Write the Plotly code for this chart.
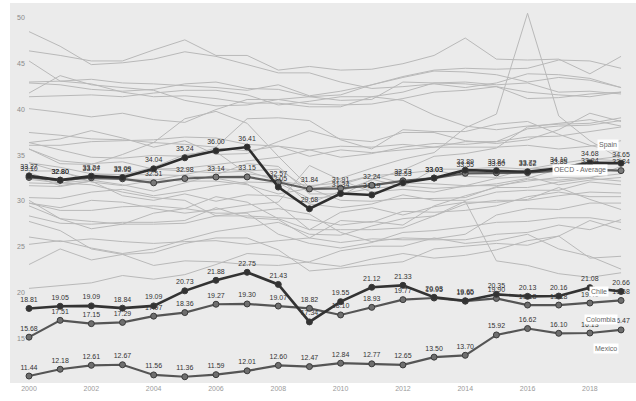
import plotly.graph_objects as go

years = list(range(2000, 2020))
tick_years = list(range(2000, 2019, 2))
y_ticks = [15, 20, 25, 30, 35, 40, 45, 50]

# Highlighted series (tax revenue, % of GDP)
spain = [33.27, 32.80, 33.24, 33.09, 34.04, 35.24, 36.00, 36.41, 32.05, 29.68,
         31.34, 31.19, 32.53, 33.03, 33.89, 33.84, 33.72, 34.10, 34.68, 34.65]
oecd_avg = [33.10, 32.80, 33.07, 32.95, 32.51, 32.98, 33.14, 33.15, 32.57, 31.84,
            31.91, 32.24, 32.73, 33.03, 33.55, 33.60, 33.62, 33.85, 33.94, 33.84]
chile = [18.81, 19.05, 19.09, 18.84, 19.09, 20.73, 21.88, 22.75, 21.43, 17.34,
         19.55, 21.12, 21.33, 20.03, 19.65, 20.35, 20.13, 20.16, 21.08, 20.66]
colombia = [15.68, 17.51, 17.15, 17.29, 17.97, 18.36, 19.27, 19.30, 19.07, 18.82,
            18.10, 18.93, 19.77, 19.95, 19.60, 19.90, 19.18, 19.18, 19.40, 19.68]
mexico = [11.44, 12.18, 12.61, 12.67, 11.56, 11.36, 11.59, 12.01, 12.60, 12.47,
          12.84, 12.77, 12.65, 13.50, 13.70, 15.92, 16.62, 16.10, 16.13, 16.47]

# Background (grey) countries
denmark = [46.9, 46.4, 45.8, 45.8, 47.0, 48.1, 46.4, 46.4, 44.8, 45.2, 44.8, 44.9, 45.5, 46.4, 48.3, 46.0, 45.9, 46.0, 44.4, 46.3]
sweden = [49.0, 47.4, 45.4, 45.6, 46.0, 46.8, 46.3, 45.4, 44.5, 44.5, 43.5, 42.8, 43.0, 43.3, 42.9, 43.4, 44.4, 44.3, 43.9, 42.9]
france = [43.4, 43.2, 42.7, 42.5, 42.7, 43.3, 43.5, 42.8, 42.7, 41.9, 42.1, 43.2, 44.1, 44.8, 45.0, 44.9, 45.0, 45.9, 45.8, 45.0]
belgium = [43.5, 43.6, 43.8, 43.4, 43.3, 43.1, 42.9, 42.6, 43.2, 42.0, 42.5, 43.2, 44.0, 44.7, 44.6, 44.3, 43.5, 44.0, 43.7, 42.9]
finland = [45.8, 43.6, 43.3, 42.4, 41.9, 42.0, 41.7, 41.2, 41.2, 40.8, 40.8, 41.9, 42.4, 43.4, 43.5, 43.2, 43.4, 42.4, 42.5, 42.2]
austria = [42.3, 44.2, 43.2, 42.9, 42.6, 41.5, 40.9, 41.0, 41.6, 41.1, 41.0, 41.1, 41.7, 42.4, 42.6, 43.0, 41.7, 41.8, 42.2, 42.4]
norway = [41.9, 42.0, 42.1, 41.9, 42.3, 42.6, 42.6, 42.1, 41.0, 41.4, 41.9, 41.9, 41.5, 39.9, 38.7, 38.3, 38.7, 38.9, 39.0, 39.6]
italy = [40.6, 40.2, 39.7, 40.1, 39.4, 39.1, 40.5, 41.6, 41.6, 41.9, 41.5, 41.6, 43.5, 43.4, 43.3, 43.0, 42.4, 42.1, 41.9, 42.4]
netherlands = [36.9, 36.1, 35.3, 35.2, 35.5, 35.4, 36.3, 36.0, 36.5, 35.4, 36.1, 35.8, 36.1, 36.4, 37.0, 37.0, 38.4, 38.7, 38.8, 39.3]
germany = [36.2, 34.9, 34.6, 34.8, 34.0, 34.1, 34.5, 34.9, 35.3, 36.1, 35.3, 35.7, 36.4, 36.8, 36.7, 37.0, 37.5, 37.6, 38.1, 38.6]
iceland = [36.2, 34.6, 34.5, 35.6, 36.9, 39.5, 40.3, 39.0, 35.4, 32.0, 33.0, 34.1, 35.1, 35.8, 38.5, 40.0, 51.0, 39.8, 37.1, 35.1]
luxembourg = [36.9, 37.3, 38.2, 37.4, 36.4, 37.1, 35.6, 35.7, 37.0, 38.2, 37.3, 37.0, 38.0, 38.0, 37.1, 36.8, 37.2, 38.3, 40.1, 39.2]
hungary = [38.0, 37.7, 37.3, 37.2, 36.9, 36.7, 36.4, 39.5, 39.6, 39.3, 37.2, 36.2, 38.3, 38.1, 38.1, 38.9, 39.2, 37.8, 36.6, 35.8]
slovenia = [36.6, 36.6, 37.0, 37.1, 37.2, 37.5, 37.4, 36.7, 36.5, 36.1, 36.5, 36.4, 36.7, 36.4, 36.4, 36.4, 36.6, 36.2, 36.5, 37.1]
portugal = [30.9, 30.8, 31.5, 31.8, 31.1, 31.6, 32.2, 32.6, 32.5, 30.8, 31.1, 32.9, 32.1, 34.0, 34.0, 34.2, 34.0, 34.2, 34.8, 34.8]
greece = [33.4, 32.2, 32.7, 31.1, 30.6, 31.3, 30.5, 31.2, 31.1, 30.3, 31.6, 32.8, 33.9, 35.4, 35.7, 36.3, 38.6, 39.0, 39.4, 38.7]
united_kingdom = [33.8, 33.8, 32.6, 32.2, 32.8, 33.4, 34.1, 33.8, 34.0, 31.8, 32.3, 33.3, 32.5, 32.4, 32.2, 32.2, 32.7, 33.1, 33.0, 32.7]
czechia = [32.2, 32.1, 32.7, 33.3, 34.0, 33.8, 33.6, 33.8, 32.7, 32.2, 32.5, 33.3, 33.5, 33.9, 33.2, 33.1, 34.0, 34.6, 35.1, 34.9]
israel = [34.7, 34.2, 33.5, 33.4, 33.4, 33.3, 33.0, 32.4, 30.1, 27.4, 29.3, 29.8, 29.0, 29.9, 30.4, 30.4, 30.7, 32.0, 30.7, 29.6]
poland = [32.9, 32.5, 32.8, 32.3, 31.6, 32.5, 33.4, 34.6, 34.3, 31.3, 31.3, 31.9, 32.2, 31.9, 32.1, 32.4, 33.0, 34.0, 35.0, 35.4]
canada = [34.7, 33.7, 32.9, 32.9, 32.9, 32.7, 32.7, 32.3, 31.3, 31.9, 30.6, 30.5, 30.8, 30.8, 30.9, 32.1, 32.9, 32.8, 33.1, 33.5]
estonia = [30.3, 29.8, 30.6, 30.4, 29.7, 29.2, 29.6, 30.1, 30.4, 34.4, 32.8, 31.5, 31.8, 31.5, 32.2, 33.0, 33.2, 32.3, 32.8, 33.1]
slovakia = [33.6, 32.5, 32.3, 31.5, 30.9, 30.6, 28.9, 28.9, 28.7, 28.5, 27.9, 28.3, 27.9, 30.0, 31.1, 32.0, 32.0, 32.6, 33.0, 34.3]
new_zealand = [32.5, 32.4, 33.4, 33.4, 34.2, 35.6, 35.9, 33.5, 33.1, 30.2, 29.8, 30.2, 31.2, 30.6, 30.6, 31.5, 31.7, 31.7, 32.6, 32.3]
australia = [30.3, 29.5, 29.5, 29.9, 30.0, 29.7, 29.2, 29.2, 26.9, 25.9, 25.4, 26.0, 27.1, 27.3, 27.7, 28.2, 28.3, 28.7, 28.7, 28.2]
lithuania = [30.0, 28.6, 28.3, 28.0, 28.0, 28.1, 28.9, 29.3, 29.7, 29.1, 27.1, 26.1, 26.5, 26.4, 26.9, 29.0, 29.7, 29.6, 30.3, 30.3]
latvia = [28.9, 28.1, 28.0, 28.2, 28.2, 28.4, 29.8, 28.7, 28.5, 26.5, 28.4, 28.2, 29.4, 29.3, 29.5, 30.0, 31.0, 31.5, 31.0, 31.0]
japan = [25.8, 26.2, 25.4, 24.8, 25.3, 26.3, 27.2, 27.7, 28.2, 26.9, 26.8, 27.8, 28.6, 28.9, 30.2, 30.6, 30.6, 31.1, 31.5, 31.4]
switzerland = [26.6, 26.1, 26.4, 26.1, 25.9, 26.1, 26.2, 25.8, 26.2, 26.5, 26.0, 26.4, 26.3, 26.3, 26.3, 26.9, 27.1, 27.9, 27.4, 28.5]
united_states = [28.3, 27.3, 25.3, 24.7, 24.9, 25.9, 26.5, 26.5, 25.2, 22.9, 23.2, 23.6, 23.9, 25.3, 25.6, 25.9, 25.7, 26.7, 24.3, 24.5]
korea = [21.0, 21.3, 21.6, 22.4, 22.0, 22.5, 23.6, 24.8, 24.6, 23.8, 23.4, 24.2, 24.8, 24.3, 24.6, 25.2, 26.2, 26.7, 28.4, 27.4]
turkey = [23.6, 25.3, 24.1, 24.7, 23.5, 24.0, 23.9, 23.6, 23.5, 23.9, 25.1, 25.6, 25.6, 26.5, 25.9, 26.2, 26.9, 25.3, 24.5, 23.1]
ireland = [30.6, 28.6, 27.5, 28.0, 29.2, 29.7, 31.0, 30.4, 28.6, 27.4, 27.4, 27.4, 27.6, 28.9, 30.5, 24.0, 23.5, 22.6, 22.2, 22.7]

others = [denmark, sweden, france, belgium, finland, austria, norway, italy,
          netherlands, germany, iceland, luxembourg, hungary, slovenia, portugal,
          greece, united_kingdom, czechia, israel, poland, canada, estonia,
          slovakia, new_zealand, australia, lithuania, latvia, japan, switzerland,
          united_states, korea, turkey, ireland]

FONT = "Liberation Sans"
fig = go.Figure()

for series in others:
    fig.add_trace(go.Scatter(x=years, y=series, mode="lines",
                             line=dict(color="#b9b9b9", width=1.0),
                             hoverinfo="skip", showlegend=False))

highlight = [
    (oecd_avg, "#5e5e5e", "#7a7a7a", 2.2),
    (colombia, "#555555", "#6e6e6e", 2.2),
    (mexico, "#555555", "#6e6e6e", 2.2),
    (spain, "#2e2e2e", "#2e2e2e", 2.6),
    (chile, "#333333", "#333333", 2.6),
]
for vals, lc, mc, w in highlight:
    fig.add_trace(go.Scatter(
        x=years, y=vals, mode="lines+markers+text",
        line=dict(color=lc, width=w),
        marker=dict(size=6, color=mc, line=dict(color="#3a3a3a", width=1)),
        text=[f"{v:.2f}" for v in vals], textposition="top center",
        textfont=dict(family=FONT, size=7, color="#333333"),
        showlegend=False))

box_labels = [
    ("Spain", 2018.58, 36.65),
    ("OECD - Average", 2017.68, 33.9),
    ("Chile", 2018.29, 20.71),
    ("Colombia", 2018.36, 17.64),
    ("Mexico", 2018.52, 14.45),
]
for txt, bx, by in box_labels:
    fig.add_annotation(x=bx, y=by, xref="x", yref="y", text=txt, showarrow=False,
                       bgcolor="white", borderpad=1,
                       font=dict(family=FONT, size=7, color="#666666"))

fig.update_layout(
    width=636, height=401,
    margin=dict(l=10, r=0, t=3, b=18, autoexpand=False),
    paper_bgcolor="white", plot_bgcolor="#ebebeb",
    font=dict(family=FONT, size=7, color="#8a8a8a"),
    xaxis=dict(range=[1999.39, 2019.48], tickvals=tick_years,
               ticktext=[str(t) for t in tick_years], showgrid=False,
               zeroline=False, ticks="", automargin=False,
               tickfont=dict(size=7, color="#9a9a9a")),
    yaxis=dict(range=[10.68, 52.12], tickvals=y_ticks,
               ticktext=[str(t) for t in y_ticks], showgrid=False,
               zeroline=False, ticks="", ticklabelposition="inside top",
               ticklabelstandoff=4, automargin=False,
               tickfont=dict(size=7, color="#8a8a8a")),
)

fig.write_html("out.html", config={"displayModeBar": False},
               post_script="document.body.style.margin='0';"
                           "document.body.style.overflow='hidden';")
